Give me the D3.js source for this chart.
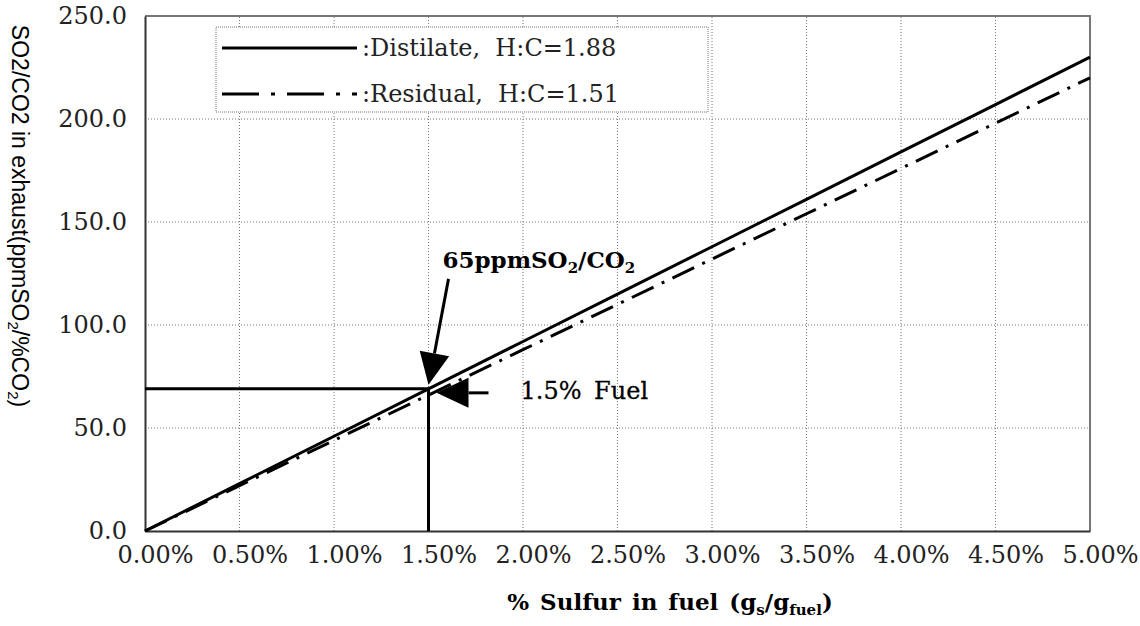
<!DOCTYPE html>
<html>
<head>
<meta charset="utf-8">
<script src="https://cdn.jsdelivr.net/npm/d3@7"></script>
<style>
  body { margin: 0; background: #fff; }
  svg { display: block; }
  .tick text { font-family: "DejaVu Serif", serif; font-size: 24px; fill: #222; }
  text { white-space: pre; }
</style>
</head>
<body>
<svg id="chart" width="1140" height="626"></svg>
<script>
// sulfur content of the fuel, percent
const sulfur = [0, 0.5, 1.0, 1.5, 2.0, 2.5, 3.0, 3.5, 4.0, 4.5, 5.0];
// SO2/CO2 ratio in the exhaust (ppm SO2 / % CO2)
const distillate = [0, 23, 46, 69, 92, 115, 138, 161, 184, 207, 230];
const residual = [0, 22, 44, 66, 88, 110, 132, 154, 176, 198, 220];

const yTicks = [0, 50, 100, 150, 200, 250];
const xTicks = [0, 0.5, 1.0, 1.5, 2.0, 2.5, 3.0, 3.5, 4.0, 4.5, 5.0];

// reading marked on the chart: 1.5% fuel -> ~69 ppm/%
const marker = { s: 1.5, ratio: 69 };

const legendItems = [
  { label: ":Distilate,  H:C=1.88", dash: null },
  { label: ":Residual,  H:C=1.51", dash: "37,12,4,12" }
];

const margin = { left: 145, right: 50, top: 16, bottom: 95 },
width = 1140,
height = 626;

let svg = d3.select("#chart");

let x = d3.scaleLinear().domain([0, 5]).range([margin.left, width - margin.right]);
let y = d3.scaleLinear().domain([0, 250]).range([height - margin.bottom, margin.top]);

// gridlines
svg.append("g")
  .selectAll("line")
  .data(yTicks.slice(1, -1))
  .join("line")
  .attr("x1", x(0)).attr("x2", x(5))
  .attr("y1", d => y(d)).attr("y2", d => y(d))
  .attr("stroke", "#777").attr("stroke-width", 1).attr("stroke-dasharray", "1,2");

svg.append("g")
  .selectAll("line")
  .data(xTicks.slice(1, -1))
  .join("line")
  .attr("x1", d => x(d)).attr("x2", d => x(d))
  .attr("y1", y(0)).attr("y2", y(250))
  .attr("stroke", "#777").attr("stroke-width", 1).attr("stroke-dasharray", "1,2");

// frame: grey top/right, dark left/bottom
svg.append("path")
  .attr("d", `M${x(0)},${y(250)}H${x(5)}V${y(0)}`)
  .attr("fill", "none").attr("stroke", "#777").attr("stroke-width", 2);

// axes
let yAxis = svg.append("g")
  .attr("transform", `translate(${x(0)},0)`)
  .call(d3.axisLeft(y).tickValues(yTicks).tickFormat(d3.format(".1f")).tickSize(0).tickPadding(18));

let xAxis = svg.append("g")
  .attr("transform", `translate(0,${y(0)})`)
  .call(d3.axisBottom(x).tickValues(xTicks).tickFormat(d => d.toFixed(2) + "%").tickSize(0).tickPadding(15));

xAxis.selectAll(".tick text").attr("dx", 10);
[yAxis, xAxis].forEach(a => a.select(".domain").attr("stroke", "#333").attr("stroke-width", 2));

// data lines
let line = d3.line()
  .x((d, i) => x(sulfur[i]))
  .y(d => y(d));

svg.append("path")
  .datum(distillate)
  .attr("d", line)
  .attr("fill", "none").attr("stroke", "#000").attr("stroke-width", 3);

svg.append("path")
  .datum(residual)
  .attr("d", line)
  .attr("fill", "none").attr("stroke", "#000").attr("stroke-width", 3)
  .attr("stroke-dasharray", "24,9,3,9");

// reference lines at 1.5% fuel
svg.append("path")
  .attr("d", `M${x(0)},${y(marker.ratio)}H${x(marker.s)}V${y(0)}`)
  .attr("fill", "none").attr("stroke", "#000").attr("stroke-width", 3);

// arrows
function arrow(x1, y1, x2, y2) {
  let ang = Math.atan2(y2 - y1, x2 - x1),
  len = 32, half = 15;
  let bx = x2 - len * Math.cos(ang), by = y2 - len * Math.sin(ang);
  svg.append("line")
    .attr("x1", x1).attr("y1", y1).attr("x2", bx).attr("y2", by)
    .attr("stroke", "#000").attr("stroke-width", 3);
  svg.append("path")
    .attr("d", `M${x2},${y2}L${bx + half * Math.sin(ang)},${by - half * Math.cos(ang)}L${bx - half * Math.sin(ang)},${by + half * Math.cos(ang)}Z`)
    .attr("fill", "#000");
}

arrow(x(marker.s) + 20, y(marker.ratio) - 110, x(marker.s), y(marker.ratio) - 4);
arrow(x(marker.s) + 60, y(marker.ratio) + 4, x(marker.s) + 8, y(marker.ratio) + 4);

let note = svg.append("text")
  .attr("x", x(marker.s) + 14).attr("y", y(marker.ratio) - 121)
  .attr("font-family", "DejaVu Serif, serif").attr("font-size", 23).attr("font-weight", "bold");
note.append("tspan").text("65ppmSO");
note.append("tspan").attr("font-size", 15).attr("dy", 5).text("2");
note.append("tspan").attr("dy", -5).text("/CO");
note.append("tspan").attr("font-size", 15).attr("dy", 5).text("2");

svg.append("text")
  .attr("x", x(marker.s) + 92).attr("y", y(marker.ratio) + 10)
  .attr("font-family", "DejaVu Serif, serif").attr("font-size", 24)
  .attr("stroke", "#000").attr("stroke-width", 0.3).attr("word-spacing", 5)
  .text("1.5% Fuel");

// legend
let legend = svg.append("g").attr("transform", "translate(216,27)");

legend.append("rect")
  .attr("width", 492).attr("height", 85)
  .attr("fill", "#fff").attr("stroke", "#777").attr("stroke-width", 1).attr("stroke-dasharray", "1,1");

let items = legend.selectAll("g")
  .data(legendItems)
  .join("g")
  .attr("transform", (d, i) => `translate(0,${21 + i * 46})`);

items.append("line")
  .attr("x1", 6).attr("x2", 141)
  .attr("stroke", "#000").attr("stroke-width", 3)
  .attr("stroke-dasharray", d => d.dash);

items.append("text")
  .attr("x", 146).attr("dy", "0.35em")
  .attr("font-family", "DejaVu Serif, serif").attr("font-size", 24).attr("fill", "#222")
  .text(d => d.label);

// axis titles
let xTitle = svg.append("text")
  .attr("x", 670).attr("y", 610).attr("text-anchor", "middle")
  .attr("font-family", "DejaVu Serif, serif").attr("font-size", 23).attr("font-weight", "bold")
  .attr("word-spacing", 3);
xTitle.append("tspan").text("% Sulfur in fuel (g");
xTitle.append("tspan").attr("font-size", 15).attr("dy", 5).text("s");
xTitle.append("tspan").attr("dy", -5).text("/g");
xTitle.append("tspan").attr("font-size", 15).attr("dy", 5).text("fuel");
xTitle.append("tspan").attr("dy", -5).text(")");

let yTitle = svg.append("text")
  .attr("transform", "translate(12,216) rotate(90)")
  .attr("text-anchor", "middle")
  .attr("font-family", "Liberation Sans, Arial, sans-serif").attr("font-size", 23);
yTitle.append("tspan").text("SO2/CO2 in exhaust(ppmSO");
yTitle.append("tspan").attr("font-size", 15).attr("dy", 4).text("2");
yTitle.append("tspan").attr("dy", -4).text("/%CO");
yTitle.append("tspan").attr("font-size", 15).attr("dy", 4).text("2");
yTitle.append("tspan").attr("dy", -4).text(")");
</script>
</body>
</html>
